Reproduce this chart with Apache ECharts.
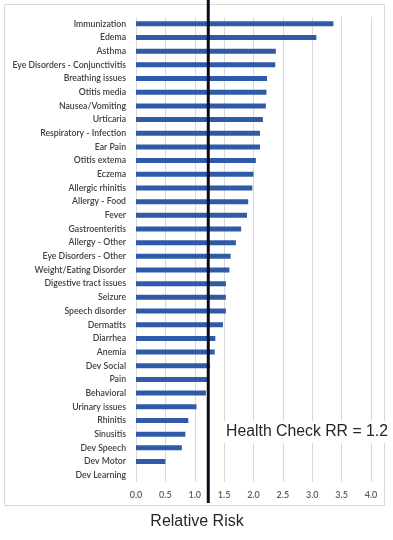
<!DOCTYPE html>
<html><head><meta charset="utf-8">
<script src="https://cdn.jsdelivr.net/npm/echarts@6/dist/echarts.min.js"></script>
<style>html,body{margin:0;padding:0;background:#fff}#c{width:393px;height:540px}</style>
</head><body><div id="c"></div>
<script>
var categories = ["Immunization","Edema","Asthma","Eye Disorders - Conjunctivitis","Breathing issues","Otitis media","Nausea/Vomiting","Urticaria","Respiratory - Infection","Ear Pain","Otitis extema","Eczema","Allergic rhinitis","Allergy - Food","Fever","Gastroenteritis","Allergy - Other","Eye Disorders - Other","Weight/Eating Disorder","Digestive tract issues","Seizure","Speech disorder","Dermatits","Diarrhea","Anemia","Dev Social","Pain","Behavioral","Urinary issues","Rhinitis","Sinusitis","Dev Speech","Dev Motor","Dev Learning"];
var relativeRisk = [3.36,3.07,2.38,2.37,2.23,2.22,2.21,2.16,2.11,2.11,2.04,2.00,1.98,1.91,1.89,1.79,1.70,1.61,1.59,1.53,1.53,1.53,1.48,1.35,1.34,1.26,1.22,1.19,1.03,0.89,0.84,0.78,0.50,0];
var xTicks = [0,0.5,1.0,1.5,2.0,2.5,3.0,3.5,4.0];
var healthCheckRR = 1.23;
var healthCheckLabel = "Health Check RR = 1.2";
var axisTitle = "Relative Risk";

var chart = echarts.init(document.getElementById('c'));
chart.setOption({
  animation:false,
  grid:{left:136,right:22,top:17,bottom:58,containLabel:false},
  xAxis:{type:'value',min:xTicks[0],max:xTicks[xTicks.length-1],interval:0.5,
    axisLine:{show:false},axisTick:{show:false},
    splitLine:{show:true,lineStyle:{color:'#d9d9d9',width:1}},
    axisLabel:{formatter:function(v){return v.toFixed(1);},color:'#595959',fontSize:9,fontFamily:'Lato',fontWeight:600,margin:9}},
  yAxis:{type:'category',data:categories,inverse:true,
    axisLine:{show:false},axisTick:{show:false},
    axisLabel:{color:'#404040',fontSize:8.7,fontFamily:'Lato',fontWeight:600,margin:10,interval:0}},
  series:[{type:'bar',data:relativeRisk,barWidth:5,itemStyle:{color:'#2e5aa8'}}]
});
var px = chart.convertToPixel({xAxisIndex:0},healthCheckRR);
chart.setOption({graphic:[
  {type:'rect',shape:{x:4.5,y:4.5,width:380,height:501},style:{fill:null,stroke:'#d9d9d9',lineWidth:1},z:1},
  {type:'line',shape:{x1:px,y1:0,x2:px,y2:503},style:{stroke:'#0b0b1e',lineWidth:3},z:10},
  {type:'text',x:224,y:432,style:{text:healthCheckLabel,fontSize:15.8,fontFamily:'Liberation Sans',fill:'#262626',verticalAlign:'middle',backgroundColor:'#fff',padding:[3,2]},z:11},
  {type:'text',x:197,y:522,style:{text:axisTitle,fontSize:16,fontFamily:'Liberation Sans',fill:'#262626',align:'center',verticalAlign:'middle'},z:11}
]});
</script></body></html>
